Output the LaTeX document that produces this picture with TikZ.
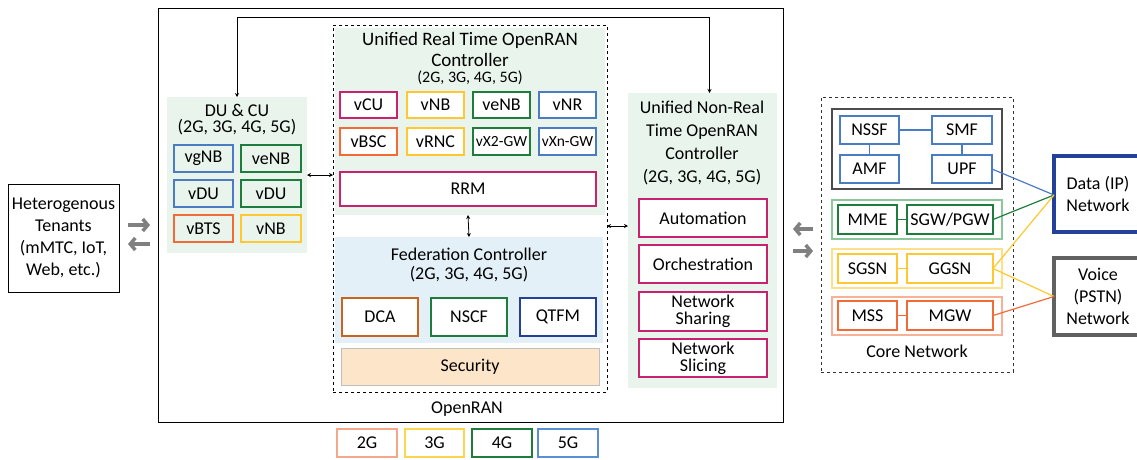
\documentclass[tikz,border=0pt]{standalone}
\usepackage{fontspec}
\setmainfont{Carlito}
\usetikzlibrary{arrows.meta,calc}
\definecolor{mag}{RGB}{200,34,111}
\definecolor{yel}{RGB}{255,200,48}
\definecolor{grn}{RGB}{30,125,60}
\definecolor{blu}{RGB}{74,124,196}
\definecolor{org}{RGB}{242,106,54}
\definecolor{dblu}{RGB}{35,64,154}
\definecolor{dca}{RGB}{200,100,30}
\definecolor{lgbg}{RGB}{233,245,236}
\definecolor{lbbg}{RGB}{228,240,248}
\definecolor{secf}{RGB}{252,229,200}
\definecolor{l2g}{RGB}{245,168,137}
\definecolor{l3g}{RGB}{255,213,79}
\definecolor{l5g}{RGB}{91,142,211}
\definecolor{g4b}{RGB}{140,199,154}
\definecolor{g3b}{RGB}{255,224,138}
\definecolor{g2b}{RGB}{248,176,150}
\definecolor{arrg}{RGB}{128,128,128}
\newcommand\bx[7]{%
  \pgfmathsetmacro\bxw{#4-#2}\pgfmathsetmacro\bxh{#5-#3}%
  \node[#6, minimum width=\bxw pt, minimum height=\bxh pt] (#1) at ({(#2+#4)/2},{(#3+#5)/2}) {#7};}
\tikzset{
  base/.style={inner sep=0pt, outer sep=0pt, align=center, font=\fontsize{18}{20}\selectfont},
  cb/.style={base, draw=#1, line width=2.6pt, fill=white},
  cbg/.style={base, draw=#1, line width=2.6pt},
  core/.style={base, draw=#1, line width=1.6pt, fill=white},
  grp/.style={base, draw=#1, line width=1.2pt},
  bg/.style={base, fill=#1},
  lbl/.style={base},
  sm/.style={font=\fontsize{15.5}{17}\selectfont},
  dbl/.style={{Stealth[length=4pt,width=4pt]}-{Stealth[length=4pt,width=4pt]}, line width=0.8pt},
  garr/.style={-{Straight Barb[length=5pt,width=12pt,line width=3.5pt]}, line width=4pt, draw=arrg},
  cl/.style={line width=1.2pt, draw=#1},
}
\begin{document}
\begin{tikzpicture}[x=1pt,y=-1pt]
\useasboundingbox (0,0) rectangle (1137,459);
% OpenRAN outer
\bx{oran}{158}{8}{783}{422}{base, draw=black, line width=1pt}{}
\node[lbl] (oranl) at (467,409) {OpenRAN};
% Tenants
\bx{ten}{8}{184}{119}{292}{base, draw=black, line width=0.9pt, font=\fontsize{18}{22}\selectfont}{Heterogenous\\Tenants\\(mMTC, IoT,\\Web, etc.)}
% DU & CU
\bx{du}{167}{97}{307}{253}{bg=lgbg}{}
\node[lbl, font=\fontsize{18}{16}\selectfont] (dut) at (237,120) {DU \& CU\\(2G, 3G, 4G, 5G)};
\bx{vgnb}{174}{145}{233}{172}{cbg=blu}{vgNB}
\bx{duenb}{241}{145}{301}{172}{cbg=grn}{veNB}
\bx{vdu1}{174}{180}{233}{207}{cbg=blu}{vDU}
\bx{vdu2}{241}{180}{301}{207}{cbg=grn}{vDU}
\bx{vbts}{174}{215}{233}{242}{cbg=org}{vBTS}
\bx{dunb}{241}{215}{301}{242}{cbg=yel}{vNB}
% RT controller
\bx{rtbox}{333}{25}{607}{392}{base, draw=black, dashed, line width=0.8pt}{}
\bx{rtbg}{335}{28}{605}{215}{bg=lgbg}{}
\node[lbl, font=\fontsize{19}{21}\selectfont, text depth=0pt] (rtt1) at (470,39) {Unified Real Time OpenRAN};
\node[lbl, font=\fontsize{19}{21}\selectfont, text height=11pt, text depth=0pt] (rtt2) at (470,61) {Controller};
\node[lbl, font=\fontsize{16}{18}\selectfont, text height=8pt, text depth=2pt] (rtt3) at (470,79) {(2G, 3G, 4G, 5G)};
\bx{vcu}{340}{92}{397}{118}{cb=mag}{vCU}
\bx{vnb}{407}{92}{464}{118}{cb=yel}{vNB}
\bx{venb}{473}{92}{530}{118}{cb=grn}{veNB}
\bx{vnr}{539}{92}{596}{118}{cb=blu}{vNR}
\bx{vbsc}{340}{128}{397}{155}{cb=org}{vBSC}
\bx{vrnc}{407}{128}{464}{155}{cb=yel}{vRNC}
\bx{vx2}{473}{128}{530}{155}{cb=grn, sm}{vX2-GW}
\bx{vxn}{539}{128}{596}{155}{cb=blu, sm}{vXn-GW}
\bx{rrm}{340}{172}{596}{206}{cb=mag}{RRM}
% Federation
\bx{fed}{335}{237}{603}{343}{bg=lbbg}{}
\node[lbl, font=\fontsize{18}{19}\selectfont] (fedt) at (469,265) {Federation Controller\\(2G, 3G, 4G, 5G)};
\bx{dca}{342}{298}{418}{336}{cb=dca}{DCA}
\bx{nscf}{431}{298}{507}{336}{cb=grn}{NSCF}
\bx{qtfm}{520}{298}{596}{336}{cb=dblu}{QTFM}
\bx{sec}{341}{348}{599}{385}{base, fill=secf, draw=black!25, line width=1pt}{Security}
% NRT controller
\bx{nrt}{628}{93}{777}{388}{bg=lgbg}{}
\node[lbl, font=\fontsize{18}{23}\selectfont] (nrtt) at (702,143) {Unified Non-Real\\Time OpenRAN\\Controller\\(2G, 3G, 4G, 5G)};
\bx{aut}{639}{199}{767}{237}{cb=mag}{Automation}
\bx{orc}{639}{245}{767}{283}{cb=mag}{Orchestration}
\bx{nsh}{639}{292}{767}{331}{cb=mag, font=\fontsize{18}{17}\selectfont}{Network\\Sharing}
\bx{nsl}{639}{339}{767}{377}{cb=mag, font=\fontsize{18}{17}\selectfont}{Network\\Slicing}
% Legend
\bx{l2}{337}{429}{397}{457}{base, draw=l2g, line width=1.5pt}{2G}
\bx{l3}{405}{429}{464}{457}{base, draw=l3g, line width=1.5pt}{3G}
\bx{l4}{472}{429}{532}{457}{base, draw=grn, line width=1.5pt}{4G}
\bx{l5}{538}{429}{598}{457}{base, draw=l5g, line width=1.5pt}{5G}
% Core network
\bx{corebox}{821}{97}{1013}{372}{base, draw=black!80, dashed, line width=0.8pt}{}
\node[lbl] (corel) at (917,351) {Core Network};
\bx{g5}{832}{109}{1002}{189}{base, draw=black!70, line width=1.2pt}{}
\bx{nssf}{840}{116}{899}{144}{core=blu}{NSSF}
\bx{smf}{932}{116}{992}{144}{core=blu}{SMF}
\bx{amf}{840}{155}{899}{183}{core=blu}{AMF}
\bx{upf}{932}{155}{992}{183}{core=blu}{UPF}
\bx{g4}{832}{200}{1002}{239}{grp=g4b}{}
\bx{mme}{838}{205}{897}{234}{core=grn, line width=2pt}{MME}
\bx{sgw}{907}{205}{993}{234}{core=grn, line width=2pt}{SGW/PGW}
\bx{g3}{832}{249}{1002}{288}{grp=g3b}{}
\bx{sgsn}{838}{254}{897}{283}{core=yel, line width=2pt}{SGSN}
\bx{ggsn}{907}{254}{993}{283}{core=yel, line width=2pt}{GGSN}
\bx{g2}{832}{297}{1002}{335}{grp=g2b}{}
\bx{mss}{838}{301}{897}{330}{core=org, line width=2pt}{MSS}
\bx{mgw}{907}{301}{993}{330}{core=org, line width=2pt}{MGW}
\bx{data}{1054}{156}{1142}{232}{base, draw=dblu, line width=3.5pt, font=\fontsize{18}{22}\selectfont}{Data (IP)\\Network}
\bx{voice}{1054}{258}{1142}{335}{base, draw=black!62, line width=3.5pt, font=\fontsize{18}{22}\selectfont}{Voice\\(PSTN)\\Network}
% core connectors
\draw[cl=blu] (nssf) -- (smf);
\draw[cl=blu] (nssf) -- (amf);
\draw[cl=blu] (smf) -- (upf);
\draw[cl=grn] (mme) -- (sgw);
\draw[cl=yel] (sgsn) -- (ggsn);
\draw[cl=org] (mss) -- (mgw);
\draw[cl=blu] (upf.east) -- ([yshift=-1pt]data.west);
\draw[cl=grn] (sgw.east) -- ([yshift=-1pt]data.west);
\draw[cl=yel] (ggsn.east) -- ([yshift=-1pt]data.west);
\draw[cl=yel] (ggsn.east) -- (voice.west);
\draw[cl=org] (mgw.east) -- (voice.west);
% arrows
\draw[dbl] (du.north) -- ++(0,-80) -| ([xshift=7pt]nrt.north);
\draw[dbl] (du.east) -- (du.east -| rtbox.west);
\draw[dbl] (rrm.south |- rtbg.south) -- (fed.north);
\draw[dbl] ([yshift=-8pt]rtbox.east |- aut.west) -- ([yshift=-8pt]aut.west -| nrt.west);
\draw[garr] ([xshift=9pt,yshift=13pt]ten.east) -- ([xshift=-17pt,yshift=13pt]ten.east -| du.west);
\draw[garr] ([xshift=-17pt,yshift=-6pt]ten.east -| du.west) -- ([xshift=9pt,yshift=-6pt]ten.east);
\draw[garr] ([xshift=30pt,yshift=-14pt]oran.east) -- ([xshift=10pt,yshift=-14pt]oran.east);
\draw[garr] ([xshift=10pt,yshift=-36pt]oran.east) -- ([xshift=30pt,yshift=-36pt]oran.east);
\end{tikzpicture}
\end{document}
